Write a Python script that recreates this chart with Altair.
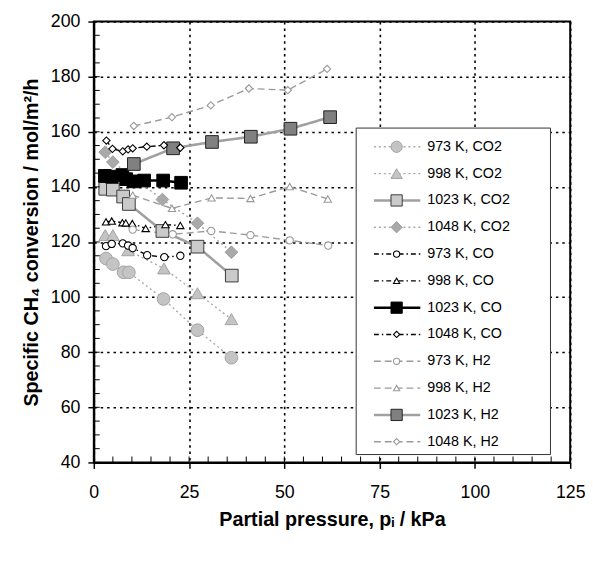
import altair as alt
import pandas as pd

# ---------------- data ----------------
series = ["973 K, CO2", "998 K, CO2", "1023 K, CO2", "1048 K, CO2",
          "973 K, CO", "998 K, CO", "1023 K, CO", "1048 K, CO",
          "973 K, H2", "998 K, H2", "1023 K, H2", "1048 K, H2"]

x_973_co2 = [3.2, 5.0, 7.8, 9.2, 18.3, 27.2, 36.1]
y_973_co2 = [114.0, 112.0, 109.0, 109.0, 99.3, 88.0, 78.0]
x_998_co2 = [3.0, 5.0, 9.0, 18.4, 27.2, 36.1]
y_998_co2 = [122.5, 122.5, 117.0, 110.4, 101.4, 92.0]
x_1023_co2 = [3.0, 5.0, 7.7, 9.2, 18.0, 27.2, 36.2]
y_1023_co2 = [139.3, 139.0, 136.5, 133.8, 124.0, 118.3, 107.8]
x_1048_co2 = [3.0, 5.0, 18.0, 27.2, 36.1]
y_1048_co2 = [152.6, 149.0, 135.4, 126.8, 116.3]

x_973_co = [3.2, 4.7, 7.6, 9.0, 10.2, 14.0, 18.5, 22.7]
y_973_co = [118.5, 119.3, 119.5, 118.7, 117.8, 115.2, 114.5, 115.0]
x_998_co = [3.2, 4.7, 7.5, 8.4, 10.1, 13.6, 18.8, 22.7]
y_998_co = [127.3, 127.6, 127.0, 126.9, 126.7, 124.9, 126.3, 126.0]
x_1023_co = [2.9, 4.7, 7.5, 8.5, 10.4, 13.2, 18.2, 22.9]
y_1023_co = [144.0, 143.7, 144.3, 142.8, 142.0, 142.3, 142.3, 141.5]
x_1048_co = [3.3, 4.9, 7.6, 9.0, 10.2, 13.9, 18.4, 22.7]
y_1048_co = [156.8, 153.8, 152.9, 153.6, 154.0, 154.6, 155.1, 154.2]

x_973_h2 = [10.2, 20.7, 30.8, 41.1, 51.4, 61.5]
y_973_h2 = [124.5, 122.8, 124.0, 122.5, 120.6, 118.7]
x_998_h2 = [10.2, 20.5, 30.9, 41.1, 51.4, 61.4]
y_998_h2 = [137.0, 132.2, 136.0, 135.8, 140.1, 135.6]
x_1023_h2 = [10.5, 20.8, 31.0, 41.2, 51.6, 62.0]
y_1023_h2 = [148.3, 154.0, 156.3, 158.2, 161.1, 165.3]
x_1048_h2 = [10.5, 20.5, 30.7, 40.7, 50.9, 61.2]
y_1048_h2 = [162.1, 165.3, 169.6, 175.7, 175.1, 182.8]

x_ticks = [0, 25, 50, 75, 100, 125]
y_ticks = [40, 60, 80, 100, 120, 140, 160, 180, 200]
x_minor = list(range(0, 126, 5))
y_minor = list(range(40, 201, 5))

xs = [x_973_co2, x_998_co2, x_1023_co2, x_1048_co2, x_973_co, x_998_co, x_1023_co, x_1048_co,
      x_973_h2, x_998_h2, x_1023_h2, x_1048_h2]
ys = [y_973_co2, y_998_co2, y_1023_co2, y_1048_co2, y_973_co, y_998_co, y_1023_co, y_1048_co,
      y_973_h2, y_998_h2, y_1023_h2, y_1048_h2]

rows = []
for s, xv, yv in zip(series, xs, ys):
    for a, b in zip(xv, yv):
        rows.append({"series": s, "x": a, "y": b})
df = pd.DataFrame(rows)
leg_df = pd.DataFrame({"series": series})

# ---------------- styles ----------------
shapes = ["circle", "triangle-up", "square", "diamond"] * 3
fills = ["#c4c4c4", "#c4c4c4", "#cacaca", "#a9a9a9",
         "white", "white", "black", "white",
         "white", "white", "#808080", "white"]
strokes = ["#a3a3a3", "#a3a3a3", "#3a3a3a", "#9a9a9a",
           "black", "black", "black", "black",
           "#999999", "#999999", "#222222", "#999999"]
line_colors = ["#a8a8a8", "#a8a8a8", "#a0a0a0", "#a8a8a8",
               "black", "black", "black", "black",
               "#9a9a9a", "#9a9a9a", "#a0a0a0", "#9a9a9a"]
dashes = [[2, 3], [2, 3], [1, 0], [2, 3],
          [5, 3, 1.5, 3], [5, 3, 1.5, 3], [1, 0], [5, 3, 1.5, 3],
          [7, 4], [7, 4], [1, 0], [7, 4]]
thick = ["1023 K, CO2", "1023 K, CO", "1023 K, H2"]
thin = [s for s in series if s not in thick]
big = ["973 K, CO2", "998 K, CO2", "1023 K, CO2", "1048 K, CO2", "1023 K, CO", "1023 K, H2"]
small = [s for s in series if s not in big]

FONT = "Liberation Sans"
W, H = 483, 447

xscale = alt.Scale(domain=[0, 125], nice=False, zero=False)
yscale = alt.Scale(domain=[40, 200], nice=False, zero=False)

color_enc = alt.Color("series:N", scale=alt.Scale(domain=series, range=line_colors), legend=None)
dash_enc = alt.StrokeDash("series:N", scale=alt.Scale(domain=series, range=dashes), legend=None)
shape_enc = alt.Shape("series:N", scale=alt.Scale(domain=series, range=shapes), legend=None)
fill_enc = alt.Fill("series:N", scale=alt.Scale(domain=series, range=fills), legend=None)
stroke_enc = alt.Stroke("series:N", scale=alt.Scale(domain=series, range=strokes), legend=None)

x_axis = alt.Axis(values=x_ticks, format="d", grid=True, gridColor="black", gridDash=[2.5, 4],
                  gridWidth=1.6, tickSize=6, tickWidth=1.5, tickColor="black",
                  domainColor="black", domainWidth=2, labelFont=FONT, labelFontSize=18,
                  labelColor="black", labelPadding=16, labelFlush=False,
                  title="Partial pressure, pᵢ / kPa", titleFont=FONT, titleFontSize=20,
                  titleFontWeight="bold", titleColor="black", titlePadding=8)
y_axis = alt.Axis(values=y_ticks, format="d", grid=True, gridColor="black", gridDash=[2.5, 4],
                  gridWidth=1.6, tickSize=6, tickWidth=1.5, tickColor="black",
                  domainColor="black", domainWidth=2, labelFont=FONT, labelFontSize=18,
                  labelColor="black", labelPadding=8, labelFlush=False,
                  title="Specific CH₄ conversion / mol/m²/h", titleFont=FONT, titleFontSize=20,
                  titleFontWeight="bold", titleColor="black", titlePadding=9)

base = alt.Chart(df)


def X(axis=alt.Undefined):
    return alt.X("x:Q", scale=xscale, axis=axis)


def Y(axis=None):
    return alt.Y("y:Q", scale=yscale, axis=axis)


lines_thin = base.transform_filter(alt.FieldOneOfPredicate(field="series", oneOf=thin)).mark_line(
    strokeWidth=1.4).encode(x=X(x_axis), y=Y(y_axis), color=color_enc, strokeDash=dash_enc, detail="series:N")
lines_thick = base.transform_filter(alt.FieldOneOfPredicate(field="series", oneOf=thick)).mark_line(
    strokeWidth=2.6).encode(x=X(), y=Y(), color=color_enc, strokeDash=dash_enc, detail="series:N")
pts_big = base.transform_filter(alt.FieldOneOfPredicate(field="series", oneOf=big)).mark_point(
    filled=True, size=165, strokeWidth=1, opacity=1).encode(
    x=X(), y=Y(), shape=shape_enc, fill=fill_enc, stroke=stroke_enc)
pts_small = base.transform_filter(alt.FieldOneOfPredicate(field="series", oneOf=small)).mark_point(
    filled=True, size=55, strokeWidth=1.1, opacity=1).encode(
    x=X(), y=Y(), shape=shape_enc, fill=fill_enc, stroke=stroke_enc)

# minor ticks (inside)
xminor = alt.Chart(pd.DataFrame({"x": x_minor})).mark_rule(color="black", strokeWidth=1).encode(
    x=X(), y=alt.value(H), y2=alt.value(H - 6))
yminor = alt.Chart(pd.DataFrame({"v": y_minor})).mark_rule(color="black", strokeWidth=1).encode(
    y=alt.Y("v:Q", scale=yscale, axis=None), x=alt.value(0), x2=alt.value(6))

# legend
leg_y = alt.Y("series:N", scale=alt.Scale(type="point", domain=series, range=[127, 426], padding=0), axis=None)
leg_box = alt.Chart(pd.DataFrame({"a": [0]})).mark_rect(fill="white", stroke="#333333", strokeWidth=1).encode(
    x=alt.value(266), x2=alt.value(463), y=alt.value(108), y2=alt.value(439))
lb = alt.Chart(leg_df)
leg_thin = lb.transform_filter(alt.FieldOneOfPredicate(field="series", oneOf=thin)).mark_rule(strokeWidth=1.4).encode(
    x=alt.value(284), x2=alt.value(331), y=leg_y, color=color_enc, strokeDash=dash_enc)
leg_thick = lb.transform_filter(alt.FieldOneOfPredicate(field="series", oneOf=thick)).mark_rule(strokeWidth=2.6).encode(
    x=alt.value(284), x2=alt.value(331), y=leg_y, color=color_enc, strokeDash=dash_enc)
leg_big = lb.transform_filter(alt.FieldOneOfPredicate(field="series", oneOf=big)).mark_point(
    filled=True, size=130, strokeWidth=1, opacity=1).encode(
    x=alt.value(307), y=leg_y, shape=shape_enc, fill=fill_enc, stroke=stroke_enc)
leg_small = lb.transform_filter(alt.FieldOneOfPredicate(field="series", oneOf=small)).mark_point(
    filled=True, size=40, strokeWidth=1.1, opacity=1).encode(
    x=alt.value(307), y=leg_y, shape=shape_enc, fill=fill_enc, stroke=stroke_enc)
leg_text = lb.mark_text(align="left", baseline="middle", font=FONT, fontSize=14.5, color="black").encode(
    x=alt.value(338), y=leg_y, text="series:N")

chart = alt.layer(
    lines_thin, lines_thick, pts_big, pts_small, xminor, yminor,
    leg_box, leg_thin, leg_thick, leg_big, leg_small, leg_text
).resolve_scale(y="independent").properties(
    width=W, height=H,
    padding={"left": 87, "top": 10, "right": 15, "bottom": 82},
    autosize=alt.AutoSizeParams(type="none"),
    background="white",
).configure_view(stroke="black", strokeWidth=2)

chart.save("out.html", embed_options={"renderer": "svg", "actions": False})
